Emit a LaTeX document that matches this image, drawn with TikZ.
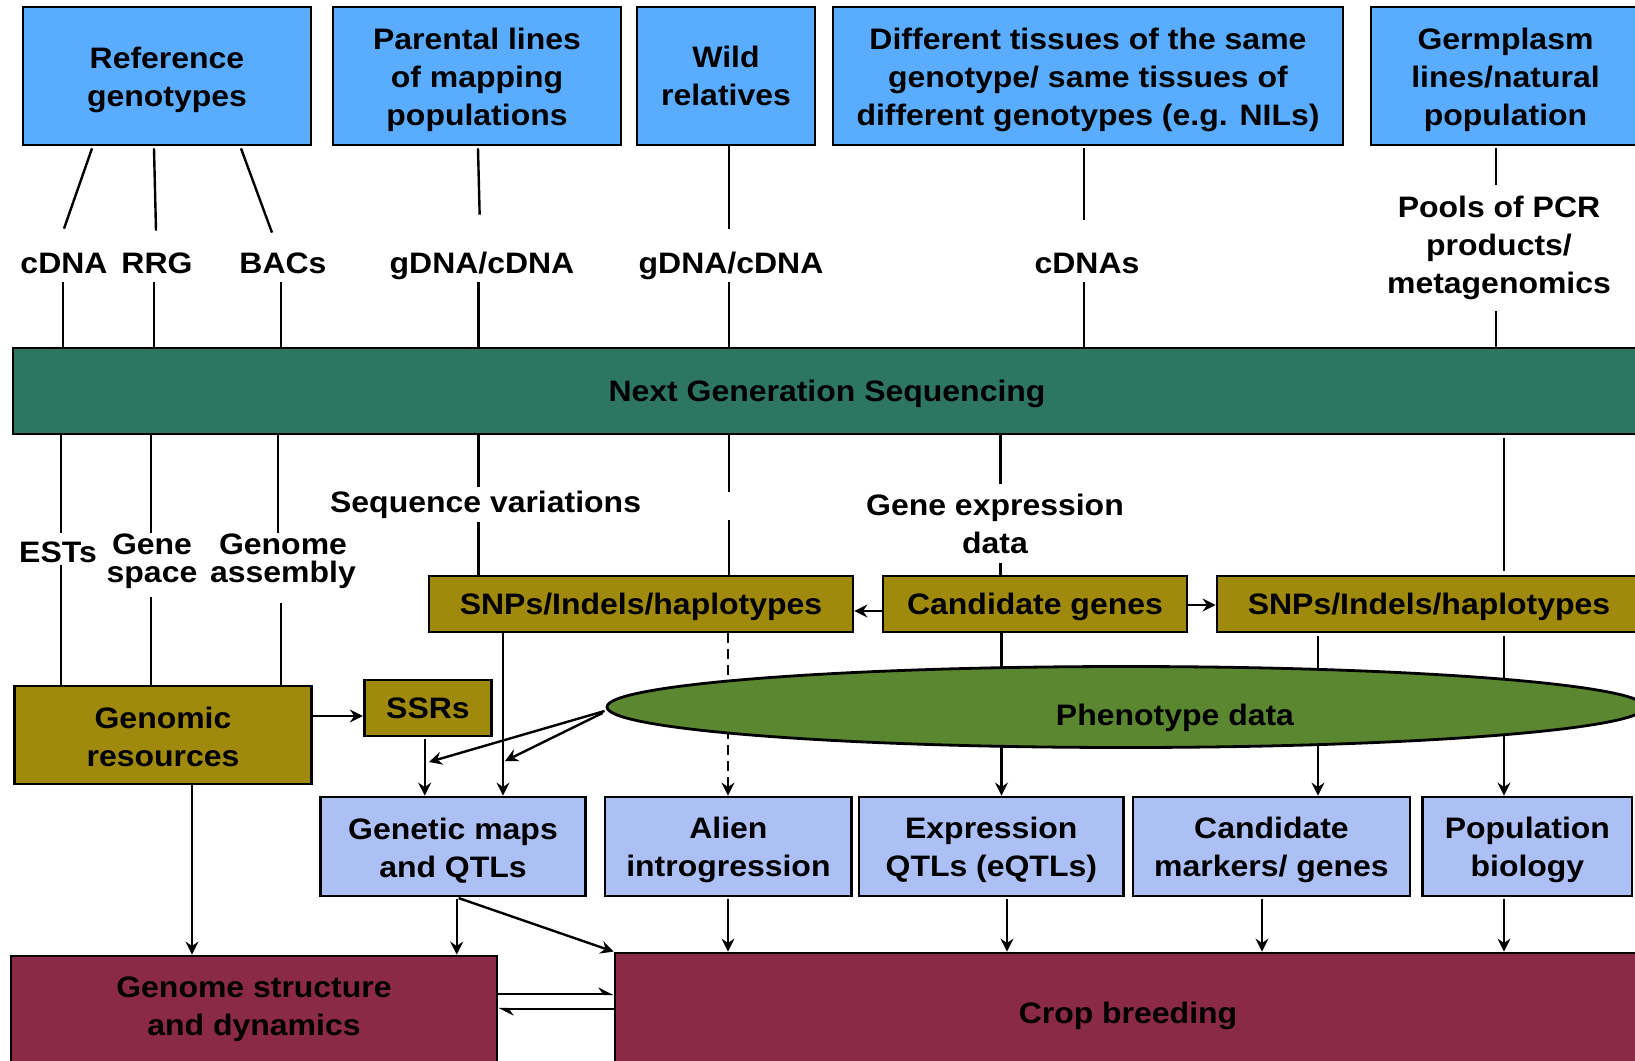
\documentclass[tikz,border=0pt]{standalone}
\usepackage{fontspec}
\setmainfont{Liberation Sans}[FakeStretch=1.08]
\usetikzlibrary{arrows.meta,shapes.geometric,calc}
\definecolor{srcblue}{HTML}{5AACFF}
\definecolor{ngsgreen}{HTML}{2C7662}
\definecolor{olivebox}{HTML}{A08A0E}
\definecolor{phenogreen}{HTML}{5A8730}
\definecolor{outblue}{HTML}{ADC0F5}
\definecolor{maroonbox}{HTML}{8A2A46}
\newcommand\firststrut{\rule{0pt}{14.5pt}}
\newcommand\firststrutb{\rule{0pt}{12.5pt}}
\begin{document}
\begin{tikzpicture}[x=0.5pt,y=-0.5pt,
  every node/.style={inner sep=0pt, font={\fontsize{14.8pt}{19pt}\selectfont\bfseries}},
  sz/.style 2 args={minimum width={#1*0.5pt}, minimum height={#2*0.5pt}},
  box/.style={draw, line width=1.4pt, align=center},
  onel/.style={text height=10.5pt, text depth=0pt},
  srcbox/.style={box, fill=srcblue},
  ngsbar/.style={box, fill=ngsgreen},
  olbox/.style={box, fill=olivebox},
  outbox/.style={box, fill=outblue},
  endbox/.style={box, fill=maroonbox},
  lab/.style={anchor=base},
  mlab/.style={align=center},
  tight/.style={font={\fontsize{14.8pt}{14pt}\selectfont\bfseries}},
  conn/.style={line width=1.2pt},
  arr/.style={conn, -{Stealth[length=6.5pt,width=6.5pt,inset=2.2pt]}},
  harp/.style={conn, -{Stealth[length=6.5pt,width=6.5pt,inset=2.2pt,harpoon]}},
]
\useasboundingbox (0,0) rectangle (1635,1061);
\fill[white] (0,0) rectangle (1635,1061);
\clip (0,0) rectangle (1635,1061);

% x positions of vertical connectors
\coordinate (xa) at (63,0);
\coordinate (xb) at (154,0);
\coordinate (xc) at (281,0);
\coordinate (xd) at (478.5,0);
\coordinate (xe) at (729,0);
\coordinate (xf) at (1084,0);
\coordinate (xg) at (1496,0);
\coordinate (xh) at (60.7,0);
\coordinate (xi) at (151,0);
\coordinate (xj) at (278,0);
\coordinate (xj2) at (281,0);
\coordinate (xk) at (1000.5,0);
\coordinate (xl) at (1504,0);
\coordinate (xm) at (424.7,0);
\coordinate (xn) at (503,0);
\coordinate (xo) at (1001.5,0);
\coordinate (xp) at (1318,0);
\coordinate (xq) at (192,0);
\coordinate (xr) at (456.7,0);
\coordinate (xs) at (728,0);
\coordinate (xt) at (1007,0);
\coordinate (xu) at (1262,0);
% y positions of horizontal connectors
\coordinate (ya) at (0,611);
\coordinate (yb) at (0,605);
\coordinate (yc) at (0,716);
\coordinate (yd) at (0,994);
\coordinate (ye) at (0,1009);

% source boxes
\node[srcbox, sz={288}{138}] (ref) at (167,76) {\firststrut Reference\\genotypes};
\node[srcbox, sz={288}{138}] (par) at (477,76) {\firststrut Parental lines\\of mapping\\populations};
\node[srcbox, sz={178}{138}] (wild) at (726,76) {Wild\\relatives};
\node[srcbox, sz={510}{138}] (diff) at (1088,76) {\firststrut Different tissues of the same\\genotype/ same tissues of\\different genotypes (e.g. NILs)};
\node[srcbox, sz={269}{138}] (germ) at (1505.5,76) {\firststrut Germplasm\\lines/natural\\population};

% material labels
\node[lab, text height=22pt, text depth=4.5pt] (cdna) at (64,273) {cDNA};
\node[lab, text height=22pt, text depth=4.5pt] (rrg) at (157,273) {RRG};
\node[lab, text height=22pt, text depth=4.5pt] (bacs) at (283,273) {BACs};
\node[lab, text height=22pt, text depth=4.5pt] (gdna1) at (482,273) {gDNA/cDNA};
\node[lab, text height=22pt, text depth=4.5pt] (gdna2) at (731,273) {gDNA/cDNA};
\node[lab, text height=22pt, text depth=4.5pt] (cdnas) at (1087,273) {cDNAs};
\node[mlab, minimum height=63pt] (pools) at (1499,248) {Pools of PCR\\products/\\metagenomics};

% NGS bar
\node[ngsbar, onel, sz={1628}{86}] (ngs) at (827,391) {Next Generation Sequencing};

% connectors above NGS
\draw[conn] ($(ref.south)+(-75,2)$) -- (cdna.north);
\draw[conn] ($(ref.south)+(-13,2)$) -- ($(rrg.north)+(-1,2)$);
\draw[conn] ($(ref.south)+(74,2)$) -- ($(bacs.north)+(-11,4)$);
\draw[conn, shorten >=7pt] ($(par.south)+(1,2)$) -- ($(gdna1.north)+(-2,0)$);
\draw[conn] (xe |- wild.south) -- (xe |- gdna2.north);
\draw[conn, shorten >=4.5pt, shorten <=1pt] (xf |- diff.south) -- (xf |- cdnas.north);
\draw[conn, shorten <=1pt] (xg |- germ.south) -- (xg |- pools.north);
\draw[conn] (xa |- cdna.south) -- (xa |- ngs.north);
\draw[conn] (xb |- rrg.south) -- (xb |- ngs.north);
\draw[conn] (xc |- bacs.south) -- (xc |- ngs.north);
\draw[conn] (xd |- gdna1.south) -- (xd |- ngs.north);
\draw[conn] (xe |- gdna2.south) -- (xe |- ngs.north);
\draw[conn] (xf |- cdnas.south) -- (xf |- ngs.north);
\draw[conn] (xg |- pools.south) -- (xg |- ngs.north);

% labels below NGS
\node[lab, text height=14.5pt, text depth=1.5pt] (ests) at (58,562) {ESTs};
\node[mlab, tight, minimum height=28pt] (gsp) at (152,561) {Gene\\space};
\node[mlab, tight, minimum height=28pt] (gasm) at (283,561) {Genome\\assembly};
\node[lab, text height=12.5pt, text depth=5pt] (seqv) at (485.6,512) {Sequence variations};
\node[mlab, minimum height=39.5pt] (gexp) at (995,523.5) {Gene expression\\data};

% olive boxes
\node[olbox, onel, sz={424}{56}] (snp1) at (641,604) {SNPs/Indels/haplotypes};
\node[olbox, onel, sz={304}{56}] (cand) at (1035,604) {Candidate genes};
\node[olbox, onel, sz={424}{56}] (snp2) at (1429,604) {SNPs/Indels/haplotypes};
\node[olbox, sz={297.5}{98}] (genomic) at (163,735) {\firststrutb Genomic\\resources};
\node[olbox, onel, sz={127.5}{56}] (ssrs) at (428,708) {SSRs};

% connectors below NGS
\draw[conn] (xh |- ngs.south) -- (xh |- ests.north);
\draw[conn] (xh |- ests.south) -- (xh |- genomic.north);
\draw[conn] (xi |- ngs.south) -- (xi |- gsp.north);
\draw[conn, shorten <=4pt] (xi |- gsp.south) -- (xi |- genomic.north);
\draw[conn] (xj |- ngs.south) -- (xj |- gasm.north);
\draw[conn, shorten <=7pt] (xj2 |- gasm.south) -- (xj2 |- genomic.north);
\draw[conn] (xd |- ngs.south) -- (xd |- seqv.north);
\draw[conn] (xd |- seqv.south) -- (xd |- snp1.north);
\draw[conn, dash pattern=on 28.5pt off 14pt on 200pt] (xe |- ngs.south) -- (xe |- snp1.north);
\draw[conn] (xk |- ngs.south) -- (xk |- gexp.north);
\draw[conn] (xk |- gexp.south) -- (xk |- cand.north);
\draw[conn, shorten <=1.5pt, shorten >=2pt] (xl |- ngs.south) -- (xl |- snp2.north);

\draw[arr] (cand.west |- ya) -- (snp1.east |- ya);
\draw[arr] (cand.east |- yb) -- (snp2.west |- yb);
\draw[arr] (genomic.east |- yc) -- (ssrs.west |- yc);

% output boxes
\node[outbox, sz={265}{99}] (gmap) at (453,846.5) {\firststrut Genetic maps\\and QTLs};
\node[outbox, sz={246.7}{99}] (alien) at (728.4,846.5) {\firststrut Alien\\introgression};
\node[outbox, sz={264.6}{99}] (eqtl) at (991.3,846.5) {\firststrut Expression\\QTLs (eQTLs)};
\node[outbox, sz={277}{99}] (cmark) at (1271.5,846.5) {\firststrut Candidate\\markers/ genes};
\node[outbox, sz={209.3}{99}] (popbio) at (1527.4,846.5) {\firststrut Population\\biology};

% lines passing behind the phenotype ellipse
\draw[arr] (xo |- cand.south) -- (xo |- eqtl.north);
\draw[arr, shorten <=1.5pt] (xp |- snp2.south) -- (xp |- cmark.north);
\draw[arr, shorten <=1.5pt] (xl |- snp2.south) -- (xl |- popbio.north);
\draw[arr, dash pattern=on 5pt off 3pt] (xs |- snp1.south) -- (xs |- alien.north);
\draw[arr, shorten <=1pt] (xm |- ssrs.south) -- (xm |- gmap.north);
\draw[arr] (xn |- snp1.south) -- (xn |- gmap.north);

% phenotype ellipse
\node[ellipse, draw, line width=1.4pt, fill=phenogreen, sz={1038}{81}] (pheno) at (1126,707) {};
\node[lab] (phenotxt) at (1175,725) {Phenotype data};
\coordinate (pa) at (429,762);
\coordinate (pb) at (505,761);
\draw[arr] ($(pheno.west)+(-1,4)$) -- (pa);
\draw[arr] ($(pheno.west)+(-3,6)$) -- (pb);

% final boxes
\node[endbox, sz={486}{124}] (gstruct) at (254,1018) {};
\node[mlab] (gstructtxt) at (254,1009) {Genome structure\\and dynamics};
\node[endbox, sz={1026}{127}] (crop) at (1128,1016.5) {};
\node[lab] (croptxt) at (1128,1023) {Crop breeding};

\draw[arr] (xq |- genomic.south) -- (xq |- gstruct.north);
\draw[arr, shorten <=1pt] (xr |- gmap.south) -- (xr |- gstruct.north);
\draw[arr, shorten <=1pt] (xr |- gmap.south) -- (crop.north west);
\draw[arr, shorten <=1pt] (xs |- alien.south) -- (xs |- crop.north);
\draw[arr, shorten <=1pt] (xt |- eqtl.south) -- (xt |- crop.north);
\draw[arr, shorten <=1pt] (xu |- cmark.south) -- (xu |- crop.north);
\draw[arr, shorten <=1pt] (xl |- popbio.south) -- (xl |- crop.north);
\draw[harp] (gstruct.east |- yd) -- (crop.west |- yd);
\draw[harp] (crop.west |- ye) -- (gstruct.east |- ye);
\end{tikzpicture}
\end{document}
